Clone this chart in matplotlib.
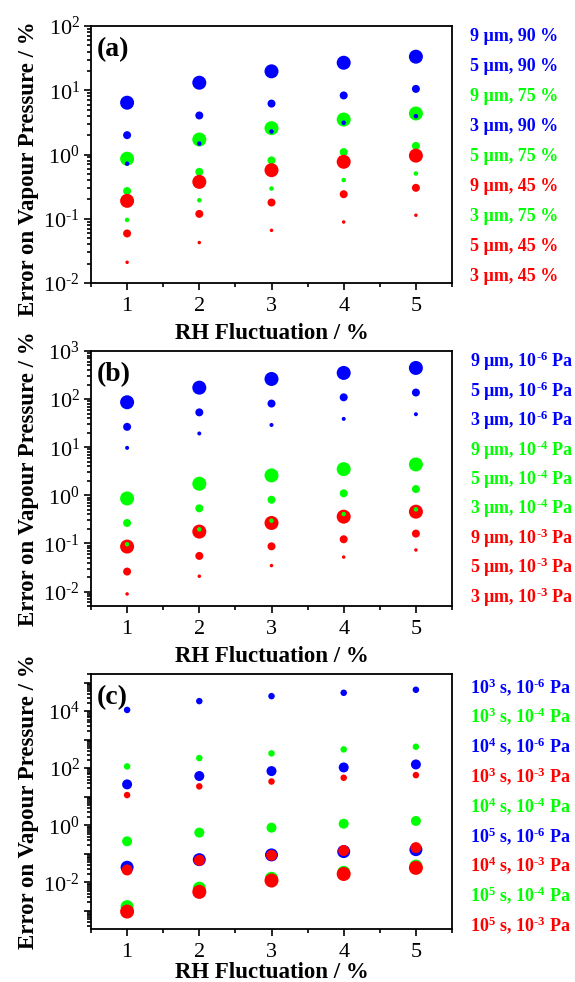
import math
import matplotlib
matplotlib.use('Agg')
import matplotlib.pyplot as plt
from matplotlib.ticker import LogLocator, MultipleLocator, FuncFormatter, NullFormatter

plt.rcParams['font.family'] = 'Liberation Serif'
plt.rcParams['mathtext.default'] = 'regular'

B = '#0000FF'
G = '#00FF00'
R = '#FF0000'
HY = '\u2010'  # short hyphen for negative exponents

rh = [1, 2, 3, 4, 5]

# (a) particle size and RH
labels_a = ['9 µm, 90 %', '5 µm, 90 %', '9 µm, 75 %', '3 µm, 90 %', '5 µm, 75 %',
            '9 µm, 45 %', '3 µm, 75 %', '5 µm, 45 %', '3 µm, 45 %']
colors_a = [B, B, G, B, G, R, G, R, R]
values_a = [
    [6.4, 13.1, 19.7, 26.8, 33.3],
    [2.0, 4.05, 6.2, 8.3, 10.5],
    [0.86, 1.71, 2.57, 3.5, 4.35],
    [0.72, 1.48, 2.28, 3.12, 3.95],
    [0.27, 0.537, 0.81, 1.09, 1.36],
    [0.19, 0.375, 0.57, 0.77, 0.96],
    [0.096, 0.194, 0.295, 0.40, 0.506],
    [0.059, 0.119, 0.179, 0.241, 0.303],
    [0.021, 0.0426, 0.066, 0.089, 0.1135],
]

# (b) particle size and vapour pressure
labels_b = ['9 µm, 10$^{%s6}$ Pa' % HY, '5 µm, 10$^{%s6}$ Pa' % HY, '3 µm, 10$^{%s6}$ Pa' % HY,
            '9 µm, 10$^{%s4}$ Pa' % HY, '5 µm, 10$^{%s4}$ Pa' % HY, '3 µm, 10$^{%s4}$ Pa' % HY,
            '9 µm, 10$^{%s3}$ Pa' % HY, '5 µm, 10$^{%s3}$ Pa' % HY, '3 µm, 10$^{%s3}$ Pa' % HY]
colors_b = [B, B, B, G, G, G, R, R, R]
values_b = [
    [86, 173, 262, 350, 444],
    [26.5, 53, 80.8, 109, 137],
    [9.7, 19.3, 29, 38.8, 48.5],
    [0.86, 1.74, 2.59, 3.5, 4.38],
    [0.266, 0.536, 0.81, 1.10, 1.35],
    [0.096, 0.196, 0.297, 0.408, 0.51],
    [0.086, 0.176, 0.266, 0.36, 0.457],
    [0.026, 0.055, 0.087, 0.122, 0.16],
    [0.0089, 0.0208, 0.0346, 0.052, 0.073],
]

# (c) equilibration time and vapour pressure
labels_c = ['10$^3$ s, 10$^{%s6}$ Pa' % HY, '10$^3$ s, 10$^{%s4}$ Pa' % HY,
            '10$^4$ s, 10$^{%s6}$ Pa' % HY, '10$^3$ s, 10$^{%s3}$ Pa' % HY,
            '10$^4$ s, 10$^{%s4}$ Pa' % HY, '10$^5$ s, 10$^{%s6}$ Pa' % HY,
            '10$^4$ s, 10$^{%s3}$ Pa' % HY, '10$^5$ s, 10$^{%s4}$ Pa' % HY,
            '10$^5$ s, 10$^{%s3}$ Pa' % HY]
colors_c = [B, G, B, R, G, B, R, G, R]
values_c = [
    [1.1e4, 2.24e4, 3.35e4, 4.39e4, 5.6e4],
    [115, 226, 330, 455, 564],
    [27, 53, 79, 106, 135],
    [11.4, 23, 34, 46, 57],
    [0.273, 0.55, 0.82, 1.13, 1.41],
    [0.0336, 0.062, 0.091, 0.119, 0.139],
    [0.027, 0.059, 0.088, 0.129, 0.164],
    [0.0014, 0.0062, 0.0138, 0.0224, 0.037],
    [0.00094, 0.0046, 0.0115, 0.0195, 0.032],
]

# marker diameters in pixels
size_a = [14, 8, 14, 4.5, 8, 14, 4.5, 8, 3.5]
size_b = [14, 8, 4, 14, 8, 4.5, 14, 8, 3.5]
size_c = [6.5, 6.5, 10, 6.5, 10, 13, 11, 13, 14]
order_b = [0, 1, 2, 6, 7, 8, 3, 4, 5]

DPI = 100
fig = plt.figure(figsize=(5.75, 9.82), dpi=DPI)
W, H = 575, 982


def px_axes(left, top, right, bottom):
    return fig.add_axes([left / W, 1 - bottom / H, (right - left) / W, (bottom - top) / H])


def exp_label(v):
    e = int(round(math.log10(v)))
    return '10$^{%s}$' % (str(e).replace('-', HY))


def style(ax, ylim, tag, ylab_y=0.5, xpad=5, even_only=False):
    ax.set_yscale('log')
    ax.set_xlim(0.5, 5.5)
    ax.set_ylim(*ylim)
    ax.xaxis.set_major_locator(MultipleLocator(1))
    ax.xaxis.set_minor_locator(MultipleLocator(0.5))
    ax.yaxis.set_major_locator(LogLocator(base=10, numticks=20))
    ax.yaxis.set_minor_locator(LogLocator(base=10, subs=range(2, 10), numticks=20))
    ax.yaxis.set_minor_formatter(NullFormatter())
    if even_only:
        ax.yaxis.set_major_formatter(FuncFormatter(
            lambda v, pos: exp_label(v) if int(round(math.log10(v))) % 2 == 0 else ''))
    else:
        ax.yaxis.set_major_formatter(FuncFormatter(lambda v, pos: exp_label(v)))
    ax.tick_params(which='both', direction='out', top=False, right=False, width=1.2)
    ax.tick_params(which='major', length=5, labelsize=16, pad=3)
    ax.tick_params(which='minor', length=3)
    ax.tick_params(axis='x', which='major', pad=5)
    for s in ax.spines.values():
        s.set_linewidth(1.3)
    ax.set_xlabel('RH Fluctuation / %', fontsize=16.5, fontweight='bold', labelpad=xpad)
    ax.set_ylabel('Error on Vapour Pressure / %', fontsize=16.5, fontweight='bold')
    ax.yaxis.set_label_coords(-0.143, ylab_y)
    ax.text(0.017, 0.955, tag, transform=ax.transAxes, fontsize=20, fontweight='bold',
            va='top', ha='left')


def draw(ax, values, colors, sizes, order):
    for i in order:
        ax.scatter(rh, values[i], s=(sizes[i] * 72 / DPI) ** 2, color=colors[i],
                   edgecolors='none', zorder=3)


def side_labels(labels, colors, y0, step):
    for k, (lab, c) in enumerate(zip(labels, colors)):
        fig.text(470 / W, 1 - (y0 + k * step) / H, lab, color=c, fontsize=13,
                 fontweight='bold', va='center', ha='left')


ax_a = px_axes(91, 26, 452, 283)
draw(ax_a, values_a, colors_a, size_a, range(9))
style(ax_a, (1e-2, 1e2), '(a)', ylab_y=0.444)
side_labels(labels_a, colors_a, 36.7, 30)

ax_b = px_axes(91, 351, 452, 606)
draw(ax_b, values_b, colors_b, size_b, order_b)
style(ax_b, (5e-3, 1e3), '(b)')
side_labels(labels_b, colors_b, 361.7, 29.4)

ax_c = px_axes(91, 674, 452, 929)
draw(ax_c, values_c, colors_c, size_c, range(9))
style(ax_c, (2.3e-4, 2e5), '(c)', xpad=0, even_only=True)
side_labels(labels_c, colors_c, 686.7, 29.8)

fig.savefig('out.png', dpi=DPI)
